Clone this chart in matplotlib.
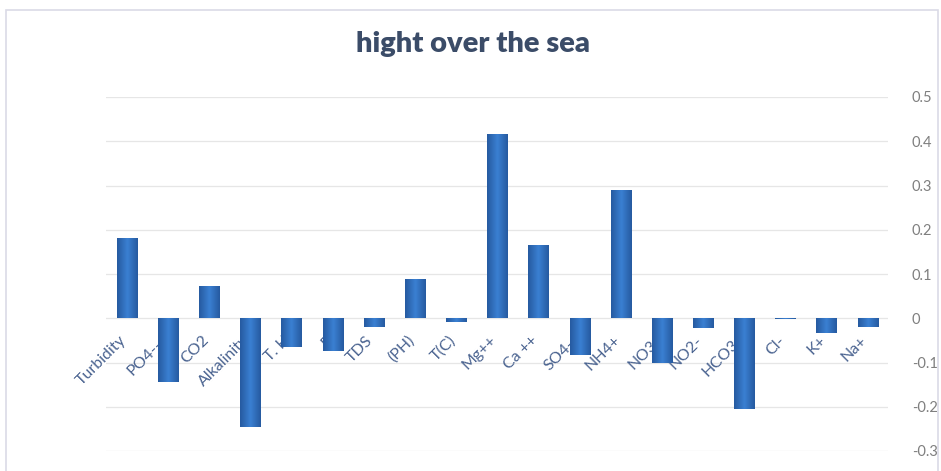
import matplotlib
matplotlib.use("Agg")
import matplotlib.pyplot as plt
import numpy as np
from matplotlib.patches import Rectangle
from matplotlib.colors import LinearSegmentedColormap
import matplotlib.transforms as mtransforms

plt.rcParams['font.family'] = ['Lato', 'DejaVu Sans']

labels = ["Turbidity", "PO4---", "CO2", "Alkalinity", "T. H", "E", "TDS", "(PH)",
          "T(C)", "Mg++", "Ca ++", "SO4--", "NH4+", "NO3-", "NO2-", "HCO3-",
          "Cl-", "K+", "Na+"]
values = [0.182, -0.143, 0.073, -0.245, -0.065, -0.073, -0.020, 0.088,
          -0.008, 0.416, 0.165, -0.084, 0.290, -0.101, -0.021, -0.204,
          -0.002, -0.033, -0.020]
yticks = [-0.3, -0.2, -0.1, 0, 0.1, 0.2, 0.3, 0.4, 0.5]

fig = plt.figure(figsize=(9.41, 4.71), dpi=100)
ax = fig.add_axes([0.113, 1 - 451/471, 0.831, (451 - 97)/471])

x = np.arange(len(labels))
bars = ax.bar(x, values, width=0.49, color="#2E6DBE", zorder=2)

# excel-ish gradient across each bar
cmap = LinearSegmentedColormap.from_list("g", ["#265AA0", "#3A80D2", "#265AA0"])
grad = np.linspace(0, 1, 64).reshape(1, -1)
for b in bars:
    x0, y0 = b.get_x(), b.get_y()
    w, h = b.get_width(), b.get_height()
    im = ax.imshow(grad, cmap=cmap, aspect="auto", zorder=3,
                   extent=(x0, x0 + w, min(y0, y0 + h), max(y0, y0 + h)))
    im.set_clip_path(b)

ax.set_xlim(-0.5, len(labels) - 0.5)
ax.set_ylim(-0.3, 0.5)
ax.set_yticks(yticks)
ax.set_yticklabels(["-0.3", "-0.2", "-0.1", "0", "0.1", "0.2", "0.3", "0.4", "0.5"])
ax.yaxis.tick_right()
ax.tick_params(axis="y", length=0, pad=17, labelsize=10.5, labelcolor="#7F7F7F")
ax.set_xticks([])
ax.grid(axis="y", color="#E6E6E6", linewidth=0.9, zorder=0)
ax.set_axisbelow(True)
for s in ax.spines.values():
    s.set_visible(False)

# category labels next to the zero line, drawn behind the bars
off = mtransforms.offset_copy(ax.transData, fig=fig, x=2, y=-15, units="dots")
for i, lab in enumerate(labels):
    ax.text(i, 0, lab, rotation=45, ha="right", va="top", fontsize=11.5,
            color="#4A6390", transform=off, zorder=1)

fig.text(0.503, 1 - 44/471, "hight over the sea", ha="center", va="center",
         fontsize=21, fontweight="heavy", color="#3B4C68")

fig.patches.append(Rectangle((6/941, -0.02), 932/941, 1 - 10/471 + 0.02,
                             transform=fig.transFigure, fill=False,
                             edgecolor="#DADAE6", linewidth=1.2))

fig.savefig("out.png", dpi=100)
